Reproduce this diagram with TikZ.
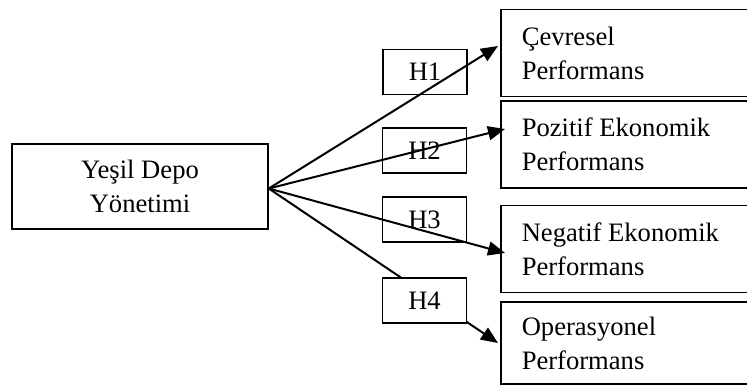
\documentclass[tikz,border=0pt]{standalone}
\usepackage{fontspec}
\setmainfont{Liberation Serif}
\usetikzlibrary{arrows.meta}

\begin{document}
\begin{tikzpicture}
	[x=0.5pt,y=-0.5pt,line width=0.75pt,
	 every node/.style={font=\fontsize{13.3}{17}\selectfont},
	 mainbox/.style={draw,minimum width=128pt,minimum height=42.5pt,align=center},
	 perfbox/.style={draw,anchor=west,text width=110pt,inner xsep=10.5pt,
	   minimum height=43.5pt,align=flush left},
	 hypbox/.style={draw,minimum width=42pt,minimum height=22.5pt},
	 link/.style={line width=1pt,-{Triangle[length=8.5pt,width=7pt]}}]
% page as in the scan, right boxes run off the edge
\useasboundingbox (0,0) rectangle (747,385);
\clip (0,0) rectangle (747,385);
\node[mainbox] (gdm) at (140,186.5) {Yeşil Depo\\Yönetimi};
\node[perfbox] (cev) at (500,53) {Çevresel\\Performans};
\node[perfbox] (poz) at (500,144.5) {Pozitif Ekonomik\\Performans};
\node[perfbox] (neg) at (500,249) {Negatif Ekonomik\\Performans};
\node[perfbox,minimum height=41pt] (ope) at (500,343) {Operasyonel\\Performans};
\node[hypbox] (h1) at (425,72) {H1};
\node[hypbox] (h2) at (424.5,150.5) {H2};
\node[hypbox] (h3) at (424.5,219.5) {H3};
\coordinate (src) at ([yshift=-1pt]gdm.east);
\draw[link] (src) -- ([xshift=-1pt,yshift=3.5pt]cev.west);
\draw[link] (src) -- ([xshift=2.5pt,yshift=7.75pt]poz.west);
\draw[link] (src) -- ([xshift=2.5pt,yshift=-2pt]neg.west);
\draw[link] (src) -- ([xshift=-1pt]ope.west);
% H4 sits on top of its arrow
\node[hypbox,fill=white] (h4) at (424.5,300.5) {H4};
\end{tikzpicture}
\end{document}
